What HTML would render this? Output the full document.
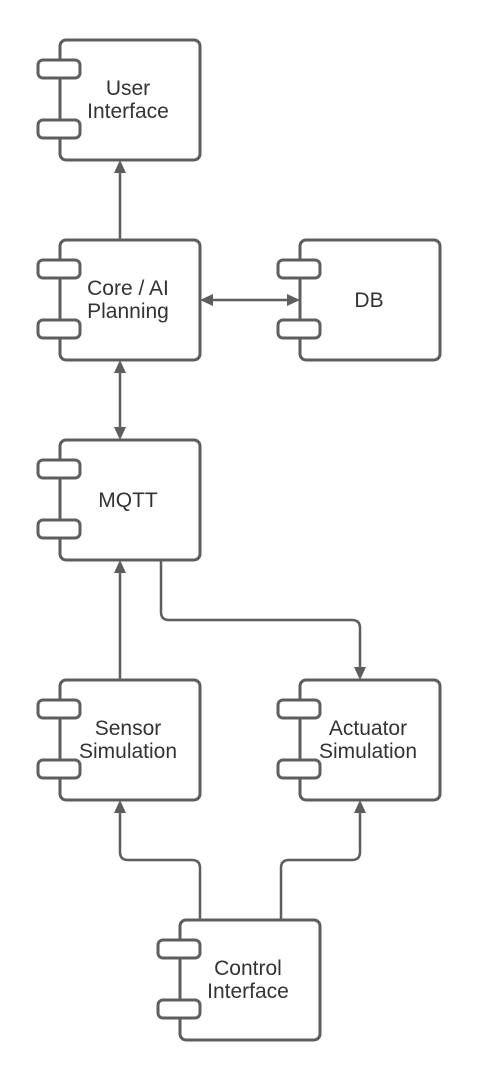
<!DOCTYPE html>
<html><head><style>body{margin:0;background:#fff}svg{display:block}</style></head><body>
<svg width="480" height="1080" viewBox="0 0 480 1080" xmlns="http://www.w3.org/2000/svg">
<defs>
<g id="comp">
<rect x="0" y="0" width="140" height="120" rx="6" fill="#fff" stroke="#5e5e5e" stroke-width="3"/>
<rect x="-22" y="20" width="42" height="18" rx="5" fill="#fff" stroke="#5e5e5e" stroke-width="3"/>
<rect x="-22" y="80" width="42" height="18" rx="5" fill="#fff" stroke="#5e5e5e" stroke-width="3"/>
</g>
</defs>
<g fill="none" stroke="#5e5e5e" stroke-width="2.5">
<path d="M120 240V172"/>
<path d="M212 300H288"/>
<path d="M120 372V428"/>
<path d="M161 560V612Q161 620 169 620H352Q360 620 360 628V668"/>
<path d="M120 680V572"/>
<path d="M200 920V868Q200 860 192 860H128Q120 860 120 852V812"/>
<path d="M281 920V868Q281 860 289 860H352Q360 860 360 852V812"/>
</g>
<g fill="#5e5e5e">
<path d="M120 160l-6 13h12z"/>
<path d="M200 300l13-6v12z"/>
<path d="M300 300l-13-6v12z"/>
<path d="M120 360l-6 13h12z"/>
<path d="M120 440l-6-13h12z"/>
<path d="M360 680l-6-13h12z"/>
<path d="M120 560l-6 13h12z"/>
<path d="M120 800l-6 13h12z"/>
<path d="M360 800l-6 13h12z"/>
</g>
<use href="#comp" x="60" y="40"/>
<use href="#comp" x="60" y="240"/>
<use href="#comp" x="300" y="240"/>
<use href="#comp" x="60" y="440"/>
<use href="#comp" x="60" y="680"/>
<use href="#comp" x="300" y="680"/>
<use href="#comp" x="180" y="920"/>
<g font-family="Liberation Sans, sans-serif" font-size="21" fill="#333" text-anchor="middle">
<text x="128" y="95">User</text><text x="128" y="118">Interface</text>
<text x="128" y="295">Core / AI</text><text x="128" y="318">Planning</text>
<text x="369" y="307">DB</text>
<text x="128" y="507">MQTT</text>
<text x="128" y="735">Sensor</text><text x="128" y="758">Simulation</text>
<text x="368" y="735">Actuator</text><text x="368" y="758">Simulation</text>
<text x="248" y="975">Control</text><text x="248" y="998">Interface</text>
</g>
</svg>
</body></html>
